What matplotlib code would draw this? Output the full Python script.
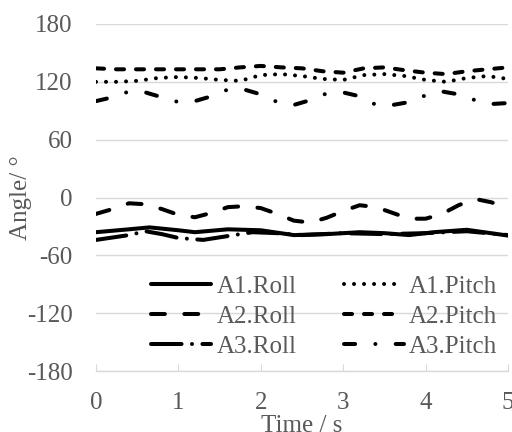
import matplotlib
matplotlib.use("Agg")
import matplotlib.pyplot as plt

plt.rcParams['font.family'] = ['Liberation Serif', 'DejaVu Serif']
plt.rcParams['lines.scale_dashes'] = False

# ---- data ----
t_a1_roll = [0, 0.4, 0.65, 1.0, 1.2, 1.6, 2.0, 2.4, 2.8, 3.2, 3.5, 3.8, 4.1, 4.5, 5.0]
a1_roll = [-36, -33, -31, -34, -36, -33, -34, -39, -38, -36, -37, -39, -36, -33.5, -39.5]

t_a1_pitch = [0, 0.25, 0.5, 0.75, 1, 1.25, 1.5, 1.75, 2, 2.25, 2.5, 2.75, 3, 3.25, 3.5, 3.75, 4, 4.25, 4.5, 4.75, 5]
a1_pitch = [120, 120, 121, 124, 125, 124, 122, 121, 127, 128, 126, 123, 122, 127, 128, 126, 122, 120, 124, 126, 123]

t_a2_roll = [0, 0.2, 0.4, 0.6, 0.8, 1.0, 1.2, 1.4, 1.6, 1.8, 2.0, 2.2, 2.4, 2.6, 2.8, 3.0, 3.2, 3.4, 3.6, 3.8, 4.0, 4.2, 4.4, 4.6, 4.8, 5.0]
a2_roll = [-17, -12, -6, -7, -12, -18, -20.5, -16, -10, -9, -11, -17, -24, -26, -21, -14, -8, -10, -16, -22, -22, -17, -8, -1.5, -5, -12]

t_a2_pitch = [0, 0.25, 0.5, 0.75, 1, 1.25, 1.5, 1.75, 2, 2.25, 2.5, 2.75, 3, 3.25, 3.5, 3.75, 4, 4.25, 4.5, 4.75, 5]
a2_pitch = [134, 133, 133, 133, 133, 133, 133, 135, 136.5, 135, 134, 131, 129.5, 134, 135, 132, 129.5, 128, 131, 133, 135]

t_a3_roll = [0, 0.4, 0.6, 0.8, 1.0, 1.3, 1.6, 1.9, 2.2, 2.5, 3.0, 3.5, 4.0, 4.5, 5.0]
a3_roll = [-44, -39, -35, -38, -42, -44, -40, -36, -37, -39, -37, -38, -37, -35, -39]

t_a3_pitch = [0, 0.2, 0.4, 0.6, 0.8, 1.0, 1.2, 1.4, 1.6, 1.8, 2.0, 2.2, 2.4, 2.6, 2.8, 3.0, 3.2, 3.4, 3.6, 3.8, 4.0, 4.2, 4.4, 4.6, 4.8, 5.0]
a3_pitch = [100, 104, 110, 109, 104, 99, 100, 105, 112, 112, 107, 99, 96, 101, 108, 109, 105, 96, 96, 99, 106, 110, 107, 101, 97, 98]

x_ticks = [0, 1, 2, 3, 4, 5]
y_ticks = [-180, -120, -60, 0, 60, 120, 180]

# ---- figure ----
fig = plt.figure(figsize=(5.12, 4.32), dpi=100)
ax = fig.add_axes([96/512, 1 - 371/432, (508-96)/512, (371-24)/432])

gray = '#595959'
lw = 2.9
common = dict(color='black', linewidth=lw, solid_capstyle='round', dash_capstyle='round')

h1r, = ax.plot(t_a1_roll, a1_roll, linestyle='-', label='A1.Roll', **common)
h1p, = ax.plot(t_a1_pitch, a1_pitch, linestyle=(0, (0.01, 7.2)), label='A1.Pitch', **common)
h2r, = ax.plot(t_a2_roll, a2_roll, linestyle=(0, (10, 14)), label='A2.Roll', **common)
h2p, = ax.plot(t_a2_pitch, a2_pitch, linestyle=(0, (5.8, 8.6)), label='A2.Pitch', **common)
h3r, = ax.plot(t_a3_roll, a3_roll, linestyle=(0, (22, 7.5, 0.01, 7.5)), label='A3.Roll', **common)
h3p, = ax.plot(t_a3_pitch, a3_pitch, linestyle=(0, (8, 14.6, 0.01, 14.6)), label='A3.Pitch', **common)

ax.set_xlim(0, 5)
ax.set_ylim(-180, 180)
ax.set_xticks(x_ticks)
ax.set_yticks(y_ticks)
ax.set_xticklabels([str(v) for v in x_ticks])
ax.set_yticklabels([str(v) for v in y_ticks])

for s in ['top', 'right', 'left']:
    ax.spines[s].set_visible(False)
ax.spines['bottom'].set_color('#d9d9d9')
ax.spines['bottom'].set_linewidth(1.0)
ax.yaxis.grid(True, color='#d9d9d9', linewidth=1.0)
ax.set_axisbelow(True)

ax.tick_params(axis='y', length=0, pad=17, labelsize=18, labelcolor=gray)
ax.tick_params(axis='x', direction='in', length=5, color='#d9d9d9', pad=15, labelsize=18, labelcolor=gray)

ax.set_xlabel('Time / s', fontsize=18, color=gray, labelpad=1)
ax.set_ylabel('Angle/ °', fontsize=18, color=gray, labelpad=-4)

handles = [h1r, h2r, h3r, h1p, h2p, h3p]
leg = ax.legend(handles=handles, labels=[h.get_label() for h in handles],
                ncol=2, loc='lower left', bbox_to_anchor=(0.11, 0.008), frameon=False,
                fontsize=18, handlelength=2.4, handletextpad=0.2, columnspacing=1.9,
                labelspacing=0.3, borderaxespad=0)
for txt in leg.get_texts():
    txt.set_color(gray)

fig.savefig('out.png', dpi=100)
